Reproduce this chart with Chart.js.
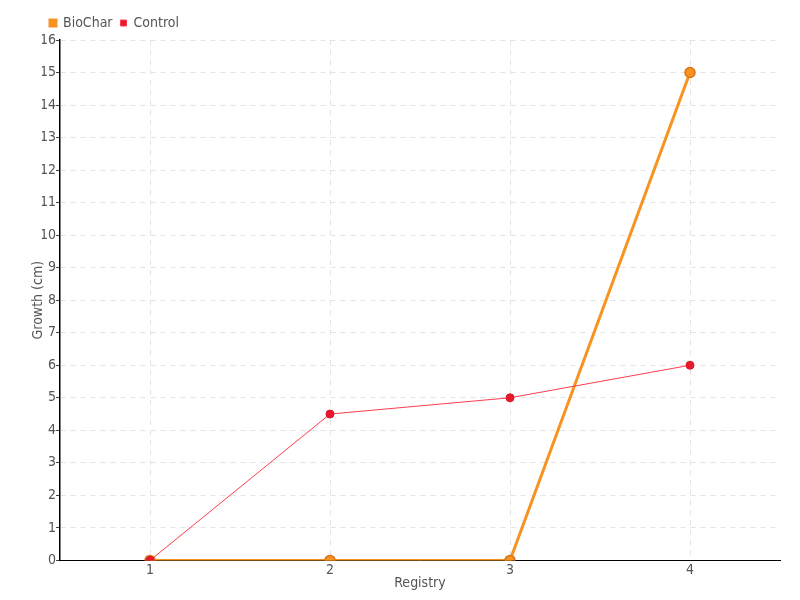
<!DOCTYPE html>
<html>
<head>
<meta charset="utf-8">
<script src="https://cdn.jsdelivr.net/npm/chart.js@4"></script>
<style>
  html, body { margin: 0; padding: 0; background: #fff; }
  #grafico { width: 800px; height: 600px; }
</style>
</head>
<body>
<div id="grafico"><canvas id="canvas"></canvas></div>
<script>
const registros = ['1', '2', '3', '4'];
const bioChar = [0, 0, 0, 15];
const controle = [0, 4.5, 5, 6];

Chart.defaults.font.family = "'DejaVu Sans', sans-serif";
Chart.defaults.font.size = 14;
Chart.defaults.color = '#555';

// fonte estreita, como no original
const fonteEstreita = {
  id: 'fonteEstreita',
  beforeUpdate(chart) { chart.ctx.fontStretch = 'condensed'; },
  beforeDraw(chart) { chart.ctx.fontStretch = 'condensed'; }
};

new Chart(document.getElementById('canvas'), {
  type: 'line',
  data: {
    labels: registros,
    datasets: [
      {
        label: 'BioChar',
        data: bioChar,
        borderColor: '#f7931e',
        backgroundColor: '#f7931e',
        borderWidth: 3,
        pointRadius: 5,
        pointBorderColor: '#d9741c',
        pointBorderWidth: 1.5,
        pointBackgroundColor: '#f7931e',
        order: 2
      },
      {
        label: 'Control',
        data: controle,
        borderColor: '#ff3d4f',
        backgroundColor: '#e8192c',
        borderWidth: 1,
        pointRadius: 4,
        pointBorderColor: '#d81a28',
        pointBorderWidth: 1,
        pointBackgroundColor: '#e8192c',
        order: 1
      }
    ]
  },
  plugins: [fonteEstreita],
  options: {
    responsive: true,
    maintainAspectRatio: false,
    animation: false,
    layout: { padding: { top: 8, right: 20, bottom: 8, left: 42 } },
    plugins: {
      legend: {
        align: 'start',
        labels: {
          boxWidth: 6,
          boxHeight: 6,
          padding: 8,
          sort: (a, b) => a.datasetIndex - b.datasetIndex
        }
      },
      tooltip: { enabled: false }
    },
    scales: {
      x: {
        offset: true,
        grid: { color: '#e3e3e3', drawTicks: false },
        border: { color: '#000', width: 1, dash: [5, 5] },
        ticks: { padding: 2 },
        title: { display: true, text: 'Registry', padding: { top: -6, bottom: 0 } }
      },
      y: {
        min: 0,
        max: 16,
        grid: { color: '#e3e3e3', tickColor: '#444', tickLength: 4 },
        border: { color: '#000', width: 1.5, dash: [5, 5] },
        ticks: { stepSize: 1, padding: 0 },
        title: { display: true, text: 'Growth (cm)', padding: { top: -12, bottom: 0 } },
        afterFit(escala) { escala.width = 18; }
      }
    }
  }
});
</script>
</body>
</html>
